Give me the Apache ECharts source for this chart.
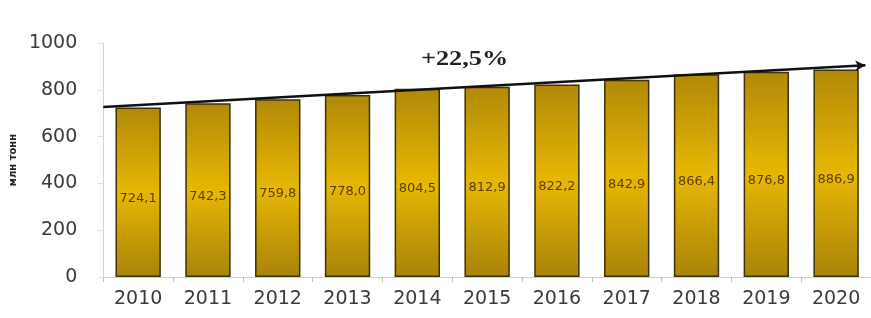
<!DOCTYPE html>
<html>
<head>
<meta charset="utf-8">
<script src="https://cdn.jsdelivr.net/npm/echarts@6/dist/echarts.min.js"></script>
<style>
  html, body { margin: 0; padding: 0; background: #fff; }
  #chart { width: 871px; height: 318px; }
</style>
</head>
<body>
<div id="chart"></div>
<script>
// годы и объёмы (млн тонн)
var years = ['2010', '2011', '2012', '2013', '2014', '2015', '2016', '2017', '2018', '2019', '2020'];
var volumes = [724.1, 742.3, 759.8, 778.0, 804.5, 812.9, 822.2, 842.9, 866.4, 876.8, 886.9];
var yTicks = [0, 200, 400, 600, 800, 1000];
// линия тренда: [позиция по оси категорий, значение]
var trendStart = [-0.5, 727];
var trendEnd = [10.42, 905];
var trendLabel = '+22,5%';
var unitName = 'млн тонн';

var myChart = echarts.init(document.getElementById('chart'));

var barGradient = new echarts.graphic.LinearGradient(0, 0, 0, 1, [
	{ offset: 0, color: '#b08908' },
	{ offset: 0.5, color: '#e8b704' },
	{ offset: 1, color: '#a8830a' },
]);

var option = {
	animation: false,
	grid: {
		left: 103,
		right: 0,
		top: 43,
		bottom: 41,
	},
	xAxis: [
		{
			type: 'category',
			data: years,
			axisLine: { lineStyle: { color: '#cfcfcf' } },
			axisTick: { show: true, length: 5, lineStyle: { color: '#bdbdbd' } },
			axisLabel: {
				color: '#3a3a3a',
				fontFamily: 'DejaVu Sans',
				fontSize: 19,
				margin: 13,
			},
		},
		{
			type: 'value',
			min: -0.5,
			max: 10.5,
			show: false,
		},
	],
	yAxis: {
		type: 'value',
		min: yTicks[0],
		max: yTicks[yTicks.length - 1],
		interval: 200,
		name: unitName,
		nameLocation: 'middle',
		nameGap: 66,
		nameTextStyle: {
			color: '#222',
			fontFamily: 'DejaVu Sans',
			fontSize: 10,
			fontWeight: 'bold',
		},
		axisLine: { show: true, onZero: false, lineStyle: { color: '#d6d6d6' } },
		axisTick: { show: true, length: 5, lineStyle: { color: '#e0e0e0' } },
		splitLine: { show: false },
		axisLabel: {
			color: '#3a3a3a',
			fontFamily: 'DejaVu Sans',
			fontSize: 19,
			margin: 26,
			formatter: function (v) {
				return String(v);
			},
		},
	},
	series: [
		{
			name: 'объём',
			type: 'bar',
			data: volumes,
			barWidth: '65%',
			itemStyle: {
				color: barGradient,
				borderColor: '#3a3208',
				borderWidth: 1.5,
			},
			label: {
				show: true,
				position: 'inside',
				offset: [0, 6],
				color: '#5a4300',
				fontFamily: 'DejaVu Sans',
				fontSize: 13,
				formatter: function (p) {
					return p.value.toFixed(1).replace('.', ',');
				},
			},
		},
		{
			name: 'тренд',
			type: 'line',
			xAxisIndex: 1,
			data: [trendStart, trendEnd],
			symbol: 'none',
			lineStyle: { width: 0 },
			silent: true,
			markLine: {
				silent: true,
				symbol: ['none', 'arrow'],
				symbolSize: [8, 10],
				lineStyle: { color: '#111', width: 2.5, type: 'solid' },
				label: { show: false },
				data: [[{ coord: trendStart }, { coord: trendEnd }]],
			},
		},
	],
	graphic: [
		{
			type: 'text',
			x: 421,
			y: 49,
			scaleX: 1.25,
			style: {
				text: trendLabel,
				fill: '#222',
				font: 'bold 21px "Liberation Serif"',
			},
		},
	],
};

myChart.setOption(option);
</script>
</body>
</html>
